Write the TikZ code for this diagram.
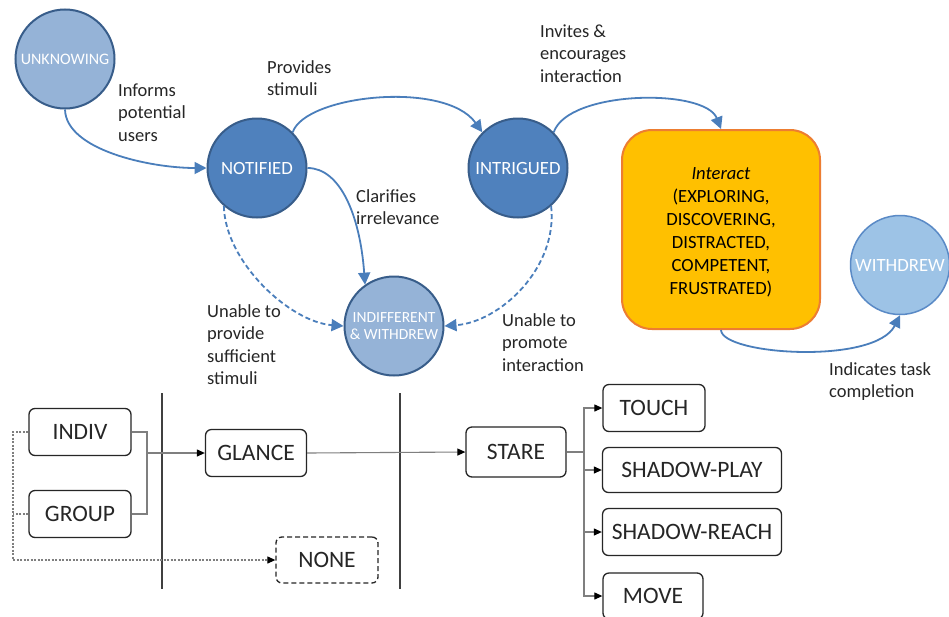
\documentclass[tikz,border=0pt]{standalone}
\usepackage{fontspec}
\setmainfont{Carlito}
\usetikzlibrary{arrows.meta}
\definecolor{darkfill}{HTML}{4F81BD}
\definecolor{darkedge}{HTML}{385D8A}
\definecolor{lightfill}{HTML}{95B3D7}
\definecolor{palefill}{HTML}{9DC3E6}
\definecolor{paleedge}{HTML}{5A8AC6}
\definecolor{flowblue}{HTML}{4A7EBB}
\definecolor{goldfill}{HTML}{FFC000}
\definecolor{orangeedge}{HTML}{ED7D31}
\definecolor{inktext}{HTML}{262626}
\definecolor{wiregray}{HTML}{7F7F7F}
\definecolor{railgray}{HTML}{404040}
\tikzset{
  state/.style={circle, draw=darkedge, line width=2pt, text=white, align=center,
    inner sep=0pt, minimum size=99pt},
  flow/.style={draw=flowblue, line width=1.8pt, -{Triangle[length=12pt,width=12pt]}},
  flowdash/.style={flow, dash pattern=on 5pt off 3pt},
  note/.style={anchor=base west, align=left, inner sep=0pt, text=inktext,
    font=\fontsize{18.5}{22.6}\selectfont},
  phase/.style={draw=inktext, line width=1.3pt, rounded corners=6pt, text=inktext,
    inner sep=0pt, minimum height=47pt, font=\fontsize{23.5}{26}\selectfont},
  wire/.style={draw=wiregray, line width=1.1pt},
  smalltip/.style={-{Triangle[length=8pt,width=7pt,color=black]}},
  wirearrow/.style={wire, smalltip},
  dotwire/.style={draw=wiregray, line width=1.1pt, dash pattern=on 2pt off 1.5pt},
}
\begin{document}
\begin{tikzpicture}[x=1pt,y=-1pt]
\useasboundingbox (0,0) rectangle (949,616);
\fill[white] (0,0) rectangle (949,616);

% ---- states of engagement ----
\node[state, fill=lightfill, font=\fontsize{16}{18}\selectfont] (unk) at (65,59) {UNKNOWING};
\node[state, fill=darkfill, font=\fontsize{18.7}{21}\selectfont] (not) at (257,168) {NOTIFIED};
\node[state, fill=darkfill, font=\fontsize{18.7}{21}\selectfont] (intr) at (518,168) {INTRIGUED};
\node[state, fill=lightfill, font=\fontsize{15.5}{17.5}\selectfont] (ind) at (394,326) {INDIFFERENT\\\& WITHDREW};
\node[state, fill=palefill, draw=paleedge, line width=1.5pt, font=\fontsize{18.7}{21}\selectfont] (wd) at (900,265) {WITHDREW};
\node[draw=orangeedge, fill=goldfill, line width=2pt, rounded corners=30pt,
  minimum width=198pt, minimum height=199pt, inner sep=0pt] (act) at (721,229.5) {};
\node[align=center, text=black, inner sep=0pt, font=\fontsize{18.6}{23}\selectfont]
  (acttext) at (721,232) {\textit{Interact}\\(EXPLORING,\\DISCOVERING,\\DISTRACTED,\\COMPETENT,\\FRUSTRATED)};

% ---- transitions ----
\draw[flow] (unk.south) .. controls (66,150) and (150,168) .. (not.west);
\draw[flow] (not.45) .. controls (305,95) and (445,80) .. (intr.135);
\draw[flow] (intr.45) .. controls (568,90) and (705,88) .. (act.north);
\draw[flow] (not.east) .. controls (340,168) and (360,215) .. (ind.125);
\draw[flowdash] (not.229) .. controls (225,262) and (290,322) .. (ind.west);
\draw[flowdash] (intr.311) .. controls (558,268) and (500,322) .. (ind.east);
\draw[flow] (act.south) .. controls (722,355) and (875,365) .. (wd.south);

% ---- transition labels (anchored at the baseline of their last line) ----
\node[note] (l1) at (118,141.2) {Informs\\potential\\users};
\node[note] (l2) at (267,95.6) {Provides\\stimuli};
\node[note] (l3) at (540,82.2) {Invites \&\\encourages\\interaction};
\node[note] (l4) at (356,224.6) {Clarifies\\irrelevance};
\node[note] (l5) at (207,384.8) {Unable to\\provide\\sufficient\\stimuli};
\node[note] (l6) at (502,371.2) {Unable to\\promote\\interaction};
\node[note] (l7) at (829,397.6) {Indicates task\\completion};

% ---- observed behaviour ----
\draw[draw=railgray, line width=1.1pt] (162,393) -- (162,589);
\draw[draw=railgray, line width=1.1pt] (400,393) -- (400,589);

\node[phase, minimum width=102pt] (indiv) at (80,432) {INDIV};
\node[phase, minimum width=102pt] (group) at (80,514) {GROUP};
\node[phase, minimum width=101pt] (glance) at (256,453) {GLANCE};
\node[phase, minimum width=102pt, minimum height=46pt, dash pattern=on 5pt off 3pt] (none) at (327,560) {NONE};
\node[phase, minimum width=100pt, minimum height=50pt] (stare) at (516,452) {STARE};
\node[phase, minimum width=102pt] (touch) at (654,408) {TOUCH};
\node[phase, minimum width=179pt, minimum height=45pt] (splay) at (692,470) {SHADOW-PLAY};
\node[phase, minimum width=179pt] (sreach) at (692,532) {SHADOW-REACH};
\node[phase, minimum width=100pt, minimum height=46pt] (move) at (653,596) {MOVE};

\coordinate (join) at (147,453);
\coordinate (fork) at (584,452);
\coordinate (drop) at (13,560);

\draw[wire] (indiv.east) -| (join) |- (group.east);
\draw[wirearrow] (join) -- (glance.west);
\draw[dotwire] (indiv.west) -| (drop);
\draw[dotwire] (group.west) -- (group.west -| drop);
\draw[dotwire, smalltip] (drop) -- (none.west);
\draw[wirearrow] (glance.east) -- (stare.west);
\draw[wire] (stare.east) -- (fork);
\draw[wirearrow] (fork) |- (touch.west);
\draw[wirearrow] (fork) |- (splay.west);
\draw[wirearrow] (fork) |- (sreach.west);
\draw[wirearrow] (fork) |- (move.west);
\end{tikzpicture}
\end{document}
